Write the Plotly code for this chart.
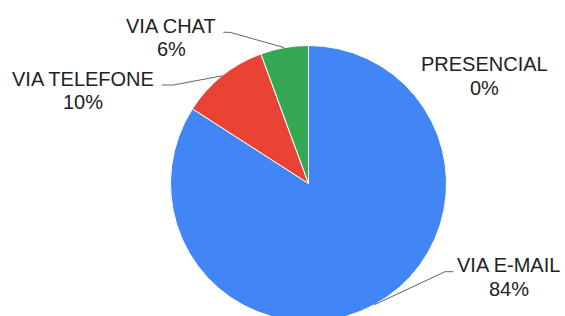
import math
import plotly.graph_objects as go

# ---- data ----
categories = ["VIA E-MAIL", "VIA TELEFONE", "VIA CHAT", "PRESENCIAL"]
values = [84.1, 10.3, 5.6, 0.0]
colors = ["#4285F4", "#EA4335", "#34A853", "#FBBC04"]

# ---- layout constants (pixels) ----
W, H = 565, 322
CX, CY, R = 308.5, 183.5, 138.0
FONT = "Liberation Sans, Arial, sans-serif"
FS = 20
LINE_GAP = 23.5

# label layout: text centre x, first-line baseline y, elbow x, line end x (None = no leader)
label_layout = {
    "VIA E-MAIL": (508.5, 272.7, 445.0, 453.3),
    "VIA TELEFONE": (83.0, 86.0, 173.3, 161.7),
    "VIA CHAT": (171.0, 33.3, 230.0, 223.3),
    "PRESENCIAL": (484.0, 71.7, None, None),
}


def px(x):
    return x / W


def py(y):
    return 1 - y / H


fig = go.Figure(
    go.Pie(
        labels=categories,
        values=values,
        marker=dict(colors=colors, line=dict(color="white", width=1)),
        sort=False,
        direction="clockwise",
        rotation=0,
        textinfo="none",
        hoverinfo="label+percent",
        showlegend=False,
        domain=dict(x=[px(CX - R), px(CX + R)], y=[py(CY + R), py(CY - R)]),
    )
)

total = sum(values)
cum = 0.0
shapes = []
annotations = []
for cat, v in zip(categories, values):
    mid = (cum + v / 2) / total * 2 * math.pi  # clockwise from 12 o'clock
    cum += v
    pct = round(v / total * 100)
    tx, base, ex, lx = label_layout[cat]
    for i, line in enumerate([cat, f"{pct}%"]):
        annotations.append(
            dict(
                x=px(tx), y=py(base + i * LINE_GAP - 1.06 * FS + 0.8),
                xref="paper", yref="paper",
                xanchor="center", yanchor="top", showarrow=False,
                text=line, align="center",
                font=dict(family=FONT, size=FS, color="#222222"),
            )
        )
    if ex is not None:
        sx = CX + R * math.sin(mid)
        sy = CY - R * math.cos(mid)
        ly = base - 1
        shapes.append(
            dict(
                type="path", xref="paper", yref="paper",
                path=f"M {px(sx)},{py(sy)} L {px(ex)},{py(ly)} L {px(lx)},{py(ly)}",
                line=dict(color="#636363", width=1),
            )
        )

fig.update_layout(
    width=W, height=H,
    margin=dict(l=0, r=0, t=0, b=0),
    paper_bgcolor="white",
    plot_bgcolor="white",
    shapes=shapes,
    annotations=annotations,
)

fig.write_html(
    "out.html",
    config={"displayModeBar": False},
    post_script=(
        "document.documentElement.style.overflow='hidden';"
        "document.body.style.overflow='hidden';"
        "document.body.style.margin='0';"
    ),
)
